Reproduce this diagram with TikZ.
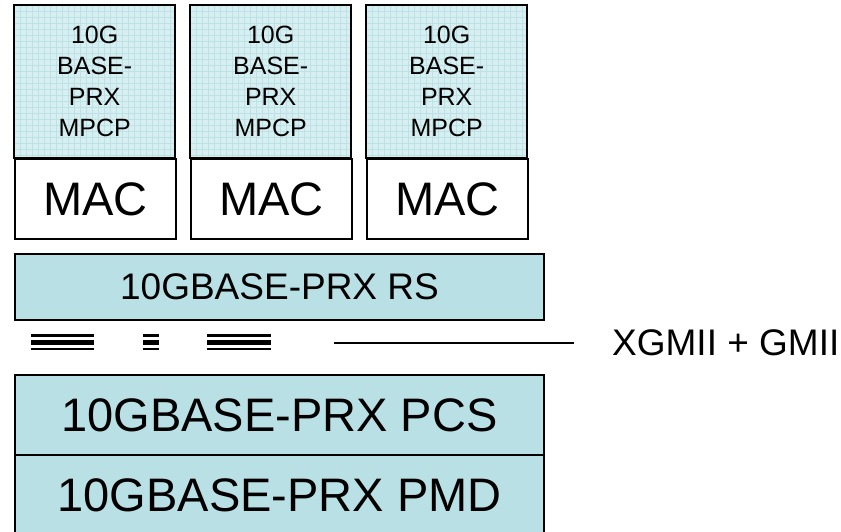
\documentclass[tikz,border=0pt]{standalone}
\usepackage{fontspec}
\setmainfont{Liberation Sans}
\usetikzlibrary{calc}
\definecolor{boxfill}{RGB}{185,224,228}
\definecolor{gridbg}{RGB}{216,239,241}
\definecolor{gridline}{RGB}{188,225,230}
\begin{document}
\begin{tikzpicture}[x=1pt,y=-1pt,
  layer/.style={draw=black,line width=2pt,fill=boxfill,inner sep=0pt,anchor=north west},
  macbox/.style={draw=black,line width=2pt,fill=white,inner sep=0pt,anchor=north west,
     minimum width=161pt,minimum height=80pt,font=\fontsize{47}{47}\selectfont},
  mpcpbox/.style={inner sep=0pt,anchor=north west,minimum width=161pt,minimum height=153pt,
     align=center,font=\fontsize{25}{31}\selectfont},
  bigtxt/.style={font=\fontsize{47}{47}\selectfont},
  midtxt/.style={font=\fontsize{37}{37}\selectfont},
  thinbar/.style={line width=2.2pt},
  thickbar/.style={line width=4.5pt}]
\useasboundingbox (0,0) rectangle (841,532);
\fill[white] (0,0) rectangle (841,532);

% MPCP boxes with grid pattern
\foreach \xx/\nm in {14/a,190/b,366/c}{
  \fill[gridbg] (\xx,5) rectangle ++(161,153);
  \begin{scope}
    \clip (\xx,5) rectangle ++(161,153);
    \foreach \k in {0,6,...,162}{
      \draw[gridline,line width=0.6pt] (\xx+\k,5) -- (\xx+\k,158);
    }
    \foreach \k in {0,6,...,154}{
      \draw[gridline,line width=0.6pt] (\xx,5+\k) -- (\xx+161,5+\k);
    }
  \end{scope}
  \node[mpcpbox] (mpcp\nm) at (\xx,5) {10G\\BASE-\\PRX\\MPCP};
  \draw[line width=2pt] (mpcp\nm.north west) rectangle (mpcp\nm.south east);
  \node[macbox] (mac\nm) at (\xx,158) {MAC};
}

% RS
\node[layer,minimum width=529pt,minimum height=66pt,midtxt] (rs) at (14,253) {10GBASE-PRX RS};

% interface bars
\coordinate (b1) at (31,342.5);
\coordinate (b2) at (143,342.5);
\coordinate (b3) at (207,342.5);
\foreach \c/\w in {b1/63,b2/16,b3/64}{
  \draw[thinbar] ($(\c)+(0,-7)$) -- ++(\w,0);
  \draw[thickbar] (\c) -- ++(\w,0);
  \draw[thinbar] ($(\c)+(0,6.5)$) -- ++(\w,0);
}

% XGMII label and line
\node[midtxt,inner sep=0pt,anchor=west] (xg) at (612,343) {XGMII + GMII};
\coordinate (ls) at (334,343);
\draw[line width=2pt] (ls) -- ([xshift=-38pt]xg.west);

% PCS and PMD
\node[layer,minimum width=529pt,minimum height=80pt,bigtxt] (pcs) at (14,374) {10GBASE-PRX PCS};
\node[layer,minimum width=529pt,minimum height=80pt,bigtxt] (pmd) at (14,454) {10GBASE-PRX PMD};
\end{tikzpicture}
\end{document}
